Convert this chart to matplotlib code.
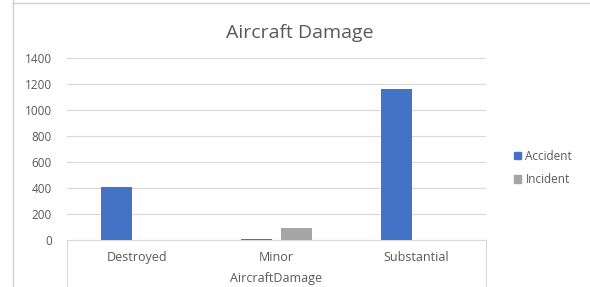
import numpy as np
import matplotlib.pyplot as plt
from matplotlib.lines import Line2D
from matplotlib.patches import Patch

categories = ['Destroyed', 'Minor', 'Substantial']
accident = [408, 8, 1158]
incident = [0, 92, 0]
yticks = [0, 200, 400, 600, 800, 1000, 1200, 1400]

plt.rcParams['font.family'] = ['Open Sans', 'DejaVu Sans']
txt = '#595959'

fig = plt.figure(figsize=(5.9, 2.87), dpi=100)
ax = fig.add_axes([67 / 590, 47 / 287, 419 / 590, 182 / 287])

x = np.arange(len(categories))
w = 0.22
ax.bar(x - 0.143, accident, w, color='#4472c4', zorder=3)
ax.bar(x + 0.143, incident, w, color='#a5a5a5', zorder=3)

ax.set_xlim(-0.5, 2.5)
ax.set_ylim(0, 1400)
ax.set_yticks(yticks)
ax.set_yticklabels([str(v) for v in yticks], fontsize=8.5, color=txt)
ax.yaxis.grid(True, color='#d9d9d9', linewidth=0.8, zorder=0)
ax.tick_params(axis='y', length=0, pad=11)
ax.set_xticks(x)
ax.set_xticklabels(categories, fontsize=9, color=txt)
ax.tick_params(axis='x', length=0, pad=8)
for s in ['top', 'right', 'left']:
    ax.spines[s].set_visible(False)
ax.spines['bottom'].set_color('#d9d9d9')

ax.set_xlabel('AircraftDamage', fontsize=9, color=txt, labelpad=6)

# category group box lines below the axis
for xp in [67, 486]:
    fig.add_artist(Line2D([xp / 590, xp / 590], [0, 47 / 287], color='#d9d9d9', lw=0.8))

# chart border
fig.add_artist(Line2D([13 / 590, 13 / 590], [0, 1], color='#d0d0d0', lw=1))
fig.add_artist(Line2D([13 / 590, 1], [284 / 287, 284 / 287], color='#d0d0d0', lw=1))

fig.text(300 / 590, 1 - 33 / 287, 'Aircraft Damage', ha='center', va='center',
         fontsize=14, color=txt)

handles = [Patch(color='#4472c4', label='Accident'), Patch(color='#a5a5a5', label='Incident')]
leg = fig.legend(handles=handles, loc='center left', bbox_to_anchor=(503 / 590, 1 - 168 / 287),
                 frameon=False, fontsize=8.5, handlelength=0.6, handleheight=0.6,
                 handletextpad=0.4, labelspacing=0.9)
for t in leg.get_texts():
    t.set_color(txt)

fig.savefig('out.png', dpi=100)
